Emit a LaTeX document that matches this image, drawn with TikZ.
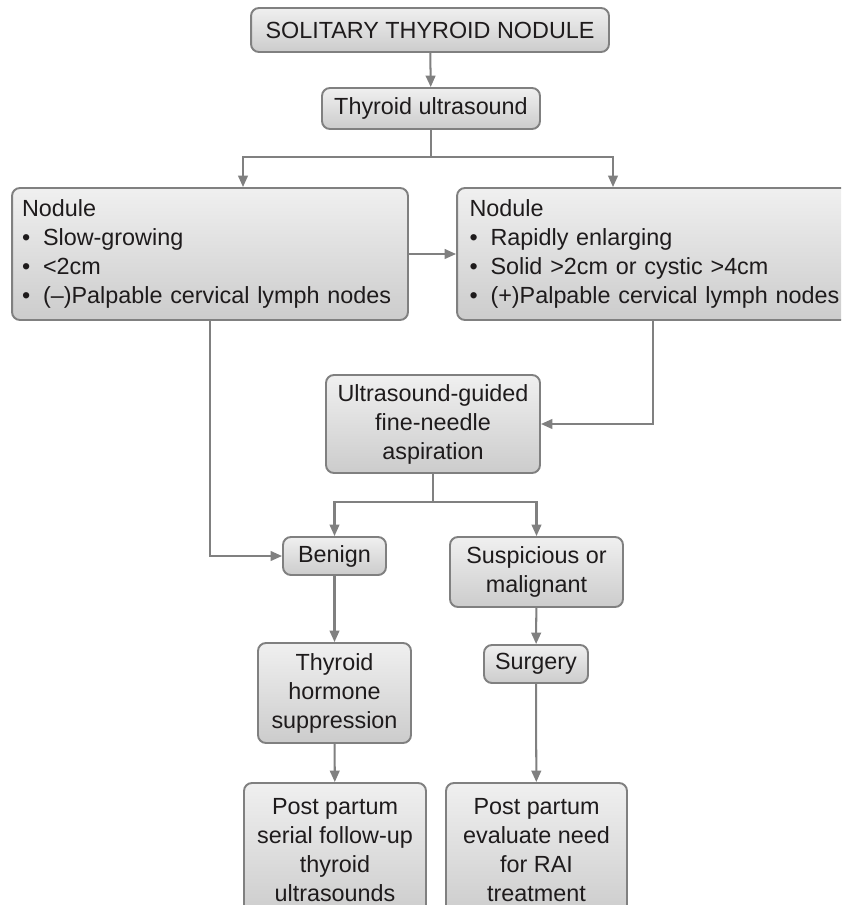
\documentclass[tikz,border=0pt]{standalone}
\usepackage{fontspec}
\setmainfont{Liberation Sans}
\usetikzlibrary{arrows.meta}
\definecolor{linegray}{RGB}{128,128,128}
\definecolor{inkgray}{RGB}{30,27,28}
\newcommand{\bul}{\makebox[0.42cm][l]{\textbullet}}
\begin{document}
\begin{tikzpicture}[x=0.02cm, y=-0.02cm,
  box/.style={draw=linegray, line width=1.1pt, rounded corners=4.5pt,
    top color=black!6, middle color=white, bottom color=black!20,
    text=inkgray, align=center, inner sep=0pt,
    font=\fontsize{13.3}{16.5}\selectfont},
  listbox/.style={box, align=left, inner xsep=0.2cm},
  link/.style={draw=linegray, line width=1.15pt, -{Triangle[length=6.5pt,width=5.5pt]}}]
  \useasboundingbox (0,0) rectangle (841,905);
  \clip (0,0) rectangle (841,905);
  % Boxes
  \node[box, minimum width=7.16cm, minimum height=0.88cm] (nodule) at (430,30) {SOLITARY THYROID NODULE};
  \node[box, minimum width=4.36cm, minimum height=0.82cm] (us) at (431,108.5) {Thyroid ultrasound};
  \node[listbox, text width=7.52cm, minimum height=2.64cm] (slow) at (210,254)
    {Nodule\\\bul Slow-growing\\\bul <2cm\\\bul (–)Palpable cervical lymph nodes};
  \node[listbox, text width=7.6cm, inner xsep=0.25cm, minimum height=2.64cm] (rapid) at (659.5,254)
    {Nodule\\\bul Rapidly enlarging\\\bul Solid >2cm or cystic >4cm\\\bul (+)Palpable cervical lymph nodes};
  \node[box, minimum width=4.28cm, minimum height=1.96cm] (fna) at (433,424)
    {Ultrasound-guided\\fine-needle\\aspiration};
  \node[box, minimum width=2.06cm, minimum height=0.76cm] (benign) at (334.5,556) {Benign};
  \node[box, minimum width=3.46cm, minimum height=1.4cm] (susp) at (536.5,572) {Suspicious or\\malignant};
  \node[box, minimum width=3.06cm, minimum height=2cm] (hormone) at (334.5,693)
    {Thyroid\\hormone\\suppression};
  \node[box, minimum width=2.08cm, minimum height=0.76cm] (surgery) at (536,664) {Surgery};
  \node[box, minimum width=3.64cm, minimum height=2.7cm] (postL) at (335,850.5)
    {Post partum\\serial follow-up\\thyroid\\ultrasounds};
  \node[box, minimum width=3.62cm, minimum height=2.7cm] (postR) at (536.5,850.5)
    {Post partum\\evaluate need\\for RAI\\treatment};
  % Branch points
  \coordinate (brL) at (243,157);
  \coordinate (brR) at (613,157);
  \coordinate (split) at (433,502);
  % Connectors
  \draw[link] (nodule) -- (us);
  \draw[link] (us.south) -- (us.south |- brL) -| (brL |- slow.north);
  \draw[link] (us.south |- brL) -| (brR |- rapid.north);
  \draw[link] (slow.east) -- (slow.east -| rapid.west);
  \draw[link] (slow.south) |- (benign.west);
  \draw[link] ([xshift=-0.13cm]rapid.south) |- (fna.east);
  \draw[link] (fna.south) -- (split) -| (benign.north);
  \draw[link] (split) -| (susp.north);
  \draw[link] (benign) -- (hormone);
  \draw[link] (hormone) -- (postL);
  \draw[link] (susp) -- (surgery);
  \draw[link] (surgery) -- (postR);
\end{tikzpicture}
\end{document}
